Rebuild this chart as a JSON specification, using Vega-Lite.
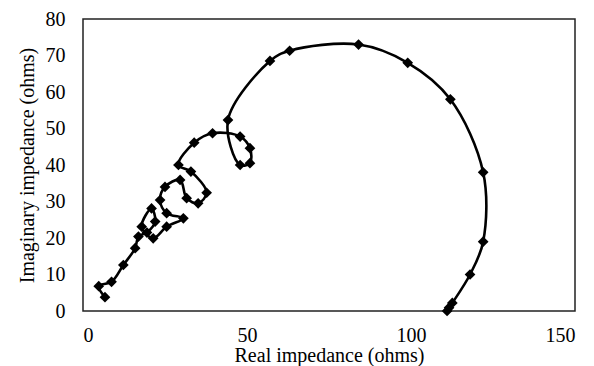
{
  "$schema": "https://vega.github.io/schema/vega-lite/v6.json",
  "width": 492,
  "height": 292,
  "autosize": "none",
  "padding": {"left": 83, "top": 19, "right": 19, "bottom": 55},
  "background": "white",
  "config": {
    "font": "Liberation Serif",
    "view": {"stroke": "#222222", "strokeWidth": 1.5},
    "axis": {
      "grid": false,
      "domain": false,
      "ticks": false,
      "labelFont": "Liberation Serif",
      "titleFont": "Liberation Serif",
      "labelFontSize": 20,
      "titleFontSize": 20,
      "labelColor": "#000000",
      "titleColor": "#000000",
      "titleFontWeight": "normal"
    }
  },
  "data": {
    "values": [
      {"i": 1, "re": 111.0, "im": 0.0},
      {"i": 2, "re": 111.6, "im": 0.9},
      {"i": 3, "re": 112.6, "im": 2.2},
      {"i": 4, "re": 118.0, "im": 10.0},
      {"i": 5, "re": 122.0, "im": 19.0},
      {"i": 6, "re": 122.0, "im": 38.0},
      {"i": 7, "re": 112.0, "im": 58.0},
      {"i": 8, "re": 99.0, "im": 68.0},
      {"i": 9, "re": 84.0, "im": 73.0},
      {"i": 10, "re": 63.0, "im": 71.3},
      {"i": 11, "re": 57.0, "im": 68.5},
      {"i": 12, "re": 44.2, "im": 52.3},
      {"i": 13, "re": 47.9, "im": 40.0},
      {"i": 14, "re": 50.9, "im": 40.5},
      {"i": 15, "re": 50.9, "im": 44.6},
      {"i": 16, "re": 47.9, "im": 47.8},
      {"i": 17, "re": 39.5, "im": 48.7},
      {"i": 18, "re": 33.9, "im": 46.1},
      {"i": 19, "re": 29.1, "im": 40.0},
      {"i": 20, "re": 32.9, "im": 38.2},
      {"i": 21, "re": 37.7, "im": 32.4},
      {"i": 22, "re": 35.1, "im": 29.5},
      {"i": 23, "re": 31.6, "im": 30.9},
      {"i": 24, "re": 29.6, "im": 35.9},
      {"i": 25, "re": 25.0, "im": 34.0},
      {"i": 26, "re": 23.5, "im": 30.4},
      {"i": 27, "re": 25.5, "im": 26.8},
      {"i": 28, "re": 30.6, "im": 25.4},
      {"i": 29, "re": 25.5, "im": 23.1},
      {"i": 30, "re": 21.4, "im": 19.9},
      {"i": 31, "re": 17.9, "im": 23.1},
      {"i": 32, "re": 20.9, "im": 28.1},
      {"i": 33, "re": 22.0, "im": 24.5},
      {"i": 34, "re": 19.5, "im": 21.5},
      {"i": 35, "re": 16.9, "im": 20.4},
      {"i": 36, "re": 15.9, "im": 17.2},
      {"i": 37, "re": 12.3, "im": 12.6},
      {"i": 38, "re": 8.7, "im": 8.0},
      {"i": 39, "re": 4.8, "im": 6.8},
      {"i": 40, "re": 6.7, "im": 3.8}
    ]
  },
  "encoding": {
    "x": {
      "field": "re", "type": "quantitative",
      "scale": {"domain": [0, 150], "nice": false, "zero": false},
      "axis": {"values": [0, 50, 100, 150], "title": "Real impedance (ohms)", "labelPadding": 14, "titlePadding": 0}
    },
    "y": {
      "field": "im", "type": "quantitative",
      "scale": {"domain": [0, 80], "nice": false, "zero": false},
      "axis": {"values": [0, 10, 20, 30, 40, 50, 60, 70, 80], "title": "Imaginary impedance (ohms)", "labelPadding": 18, "titlePadding": 8}
    },
    "order": {"field": "i", "type": "quantitative"}
  },
  "layer": [
    {"mark": {"type": "line", "interpolate": "catmull-rom", "color": "#000000", "strokeWidth": 2.6, "clip": false}},
    {"mark": {"type": "point", "shape": "diamond", "filled": true, "color": "#000000", "size": 115, "opacity": 1, "clip": false}}
  ]
}
